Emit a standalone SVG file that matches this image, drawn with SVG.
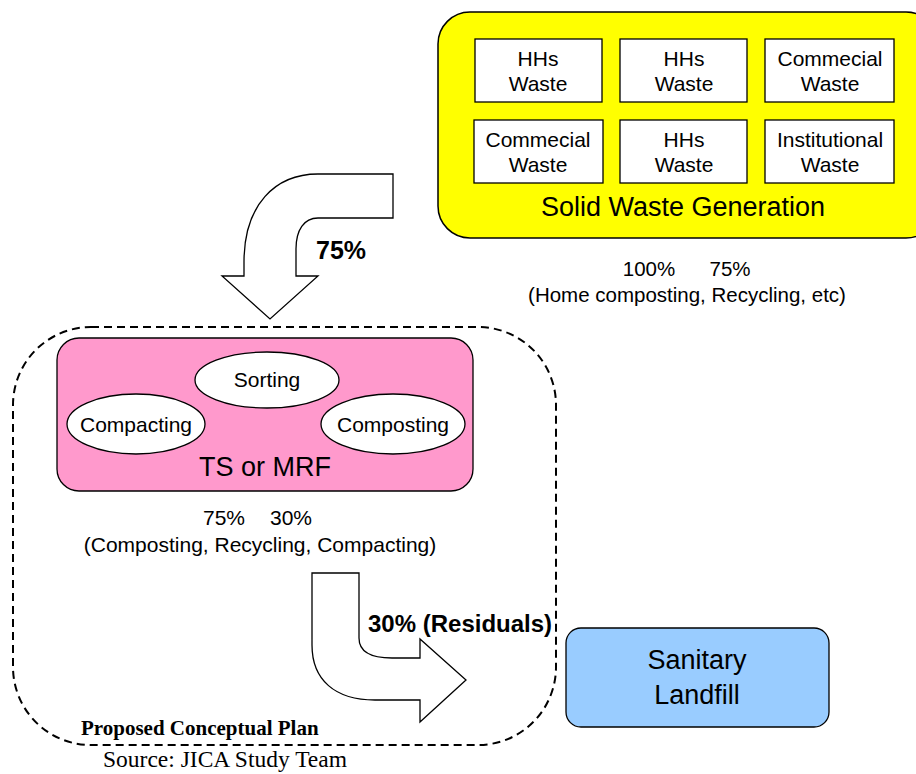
<svg xmlns="http://www.w3.org/2000/svg" width="916" height="774" viewBox="0 0 916 774">
<style>
text{font-family:"Liberation Sans",Arial,sans-serif;fill:#000;text-anchor:middle}
.box{fill:#fff;stroke:#000;stroke-width:1.3}
.ell{fill:#fff;stroke:#000;stroke-width:1.3}
.t21{font-size:21px}
.t20{font-size:20.5px}
.big{font-size:27px}
.arrow{fill:#fff;stroke:#000;stroke-width:1.3;stroke-linejoin:miter}
.serif{font-family:"Liberation Serif","Times New Roman",serif;text-anchor:start}
</style>
<rect width="916" height="774" fill="#fff"/>
<g id="generation">
<rect x="438" y="12" width="500" height="226" rx="32" fill="#ffff00" stroke="#000" stroke-width="1.5"/>
<text class="big" x="683" y="216">Solid Waste Generation</text>
</g>
<g id="w1"><rect class="box" x="475" y="39" width="127" height="63"/><text class="t21" x="538" y="66">HHs</text><text class="t21" x="538" y="91">Waste</text></g>
<g id="w2"><rect class="box" x="620" y="39" width="127" height="63"/><text class="t21" x="684" y="66">HHs</text><text class="t21" x="684" y="91">Waste</text></g>
<g id="w3"><rect class="box" x="765" y="39" width="129" height="63"/><text class="t21" x="830" y="66">Commecial</text><text class="t21" x="830" y="91">Waste</text></g>
<g id="w4"><rect class="box" x="474" y="120" width="129" height="63"/><text class="t21" x="538" y="147">Commecial</text><text class="t21" x="538" y="172">Waste</text></g>
<g id="w5"><rect class="box" x="620" y="120" width="127" height="63"/><text class="t21" x="684" y="147">HHs</text><text class="t21" x="684" y="172">Waste</text></g>
<g id="w6"><rect class="box" x="765" y="120" width="129" height="63"/><text class="t21" x="830" y="147">Institutional</text><text class="t21" x="830" y="172">Waste</text></g>
<g id="gen-note">
<text class="t20" x="649" y="276">100%</text>
<text class="t20" x="730" y="276">75%</text>
<text class="t20" x="687" y="302">(Home composting, Recycling, etc)</text>
</g>
<g id="plan">
<rect x="13" y="327" width="543" height="418" rx="78" fill="none" stroke="#000" stroke-width="2" stroke-dasharray="8,5"/>
<text class="serif" x="81" y="735" font-size="21" font-weight="bold">Proposed Conceptual Plan</text>
</g>
<g id="mrf">
<rect x="57" y="338" width="416" height="153" rx="22" fill="#ff99cc" stroke="#000" stroke-width="1.3"/>
<text class="big" x="265" y="476">TS or MRF</text>
</g>
<g id="sorting"><ellipse class="ell" cx="267" cy="380" rx="72" ry="28"/><text class="t21" x="267" y="387">Sorting</text></g>
<g id="compacting"><ellipse class="ell" cx="136" cy="424" rx="69" ry="30"/><text class="t21" x="136" y="432">Compacting</text></g>
<g id="composting"><ellipse class="ell" cx="393" cy="424" rx="72" ry="30"/><text class="t21" x="393" y="432">Composting</text></g>
<g id="mrf-note">
<text class="t21" x="224" y="525">75%</text>
<text class="t21" x="291" y="525">30%</text>
<text class="t21" x="260" y="552">(Composting, Recycling, Compacting)</text>
</g>
<g id="landfill">
<rect x="566" y="628" width="263" height="99" rx="15" fill="#99ccff" stroke="#000" stroke-width="1.3"/>
<text class="big" x="697" y="669">Sanitary</text>
<text class="big" x="697" y="704">Landfill</text>
</g>
<g id="connectors">
<path class="arrow" d="M244 276 L244 262 C244 205 275 174 318 174 L393 174 L393 218 L318 218 C304 218 296 230 296 249 L296 276 L318 276 L270 319 L222 276 Z"/>
<text x="316" y="259" font-size="25" font-weight="bold" style="text-anchor:start">75%</text>
<path class="arrow" d="M312 573 L359 573 L359 638 C359 652 372 658 392 658 L420 658 L420 639 L466 680 L420 722 L420 700 L375 700 C335 700 312 680 312 645 Z"/>
<text x="368" y="632" font-size="24" font-weight="bold" style="text-anchor:start">30% (Residuals)</text>
</g>
<text class="serif" x="103" y="767" font-size="23.5">Source: JICA Study Team</text>
</svg>
